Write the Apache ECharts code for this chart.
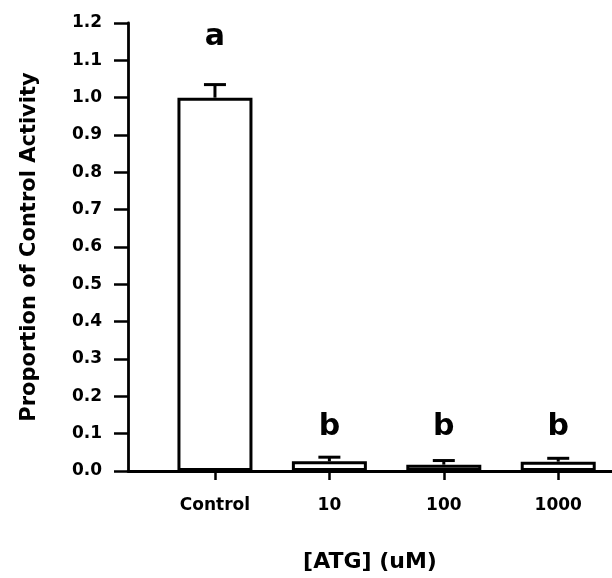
<!DOCTYPE html>
<html>
<head>
<meta charset="utf-8">
<script src="https://cdn.jsdelivr.net/npm/echarts@6/dist/echarts.min.js"></script>
<style>
  html, body { margin: 0; padding: 0; background: #fff; }
  #chart { width: 612px; height: 578px; }
</style>
</head>
<body>
<div id="chart"></div>
<script>
// Enzyme activity relative to control, by ATG concentration
const categories = ['Control', '10', '100', '1000'];
const positions = [1, 2, 3, 4];
const means = [1.0, 0.026, 0.017, 0.025];
const errors = [0.035, 0.011, 0.011, 0.009];
const letters = ['a', 'b', 'b', 'b'];
const letterLevels = [1.161, 0.116, 0.116, 0.116];
const yTicks = [0, 0.1, 0.2, 0.3, 0.4, 0.5, 0.6, 0.7, 0.8, 0.9, 1.0, 1.1, 1.2];

const FONT = 'DejaVu Sans';
const chart = echarts.init(document.getElementById('chart'), null, { renderer: 'canvas' });

const barData = positions.map((p, i) => [p, means[i]]);
const errData = positions.map((p, i) => [p, means[i], means[i] + errors[i]]);
const letterData = positions.map((p, i) => [p, letterLevels[i]]);

chart.setOption({
  animation: false,
  backgroundColor: '#ffffff',
  grid: { left: 128, top: 23, right: 0, bottom: 106, containLabel: false },
  xAxis: {
    type: 'value',
    min: 0.24,
    max: 4.47,
    name: '[ATG] (uM)',
    nameLocation: 'middle',
    nameGap: 80,
    nameTextStyle: { fontFamily: FONT, fontWeight: 'bold', fontSize: 22, color: '#000' },
    axisLine: { show: true, onZero: false, lineStyle: { color: '#000', width: 2.8 } },
    axisTick: { show: true, customValues: positions, length: 9, lineStyle: { color: '#000', width: 2.5 } },
    axisLabel: {
      customValues: positions,
      margin: 26,
      fontFamily: FONT, fontWeight: 'bold', fontSize: 17, color: '#000',
      formatter: v => categories[positions.indexOf(Math.round(v))] || ''
    },
    splitLine: { show: false }
  },
  yAxis: {
    type: 'value',
    min: 0,
    max: 1.2,
    interval: 0.1,
    name: 'Proportion of Control Activity',
    nameLocation: 'middle',
    nameGap: 88,
    nameRotate: 90,
    nameTextStyle: { fontFamily: FONT, fontWeight: 'bold', fontSize: 21, color: '#000' },
    axisLine: { show: true, lineStyle: { color: '#000', width: 2.8 } },
    axisTick: { show: true, length: 14, lineStyle: { color: '#000', width: 2.5 } },
    axisLabel: {
      margin: 26,
      fontFamily: FONT, fontWeight: 'bold', fontSize: 17, color: '#000',
      customValues: yTicks,
      formatter: v => v.toFixed(1)
    },
    splitLine: { show: false }
  },
  series: [
    {
      type: 'bar',
      data: barData,
      barWidth: 75,
      itemStyle: { color: '#fff', borderColor: '#000', borderWidth: 3 },
      z: 2
    },
    {
      type: 'custom',
      data: errData,
      z: 3,
      renderItem: (params, api) => {
        const x = api.value(0);
        const lo = api.coord([x, api.value(1)]);
        const hi = api.coord([x, api.value(2)]);
        const half = 11;
        const style = { stroke: '#000', lineWidth: 3 };
        return {
          type: 'group',
          children: [
            { type: 'line', shape: { x1: lo[0], y1: lo[1], x2: hi[0], y2: hi[1] }, style },
            { type: 'line', shape: { x1: hi[0] - half, y1: hi[1], x2: hi[0] + half, y2: hi[1] }, style }
          ]
        };
      }
    },
    {
      type: 'scatter',
      data: letterData,
      symbolSize: 0,
      itemStyle: { opacity: 1 },
      label: {
        show: true,
        position: 'inside',
        fontFamily: FONT, fontWeight: 'bold', fontSize: 30, color: '#000', opacity: 1,
        formatter: p => letters[p.dataIndex]
      }
    }
  ]
});
</script>
</body>
</html>
